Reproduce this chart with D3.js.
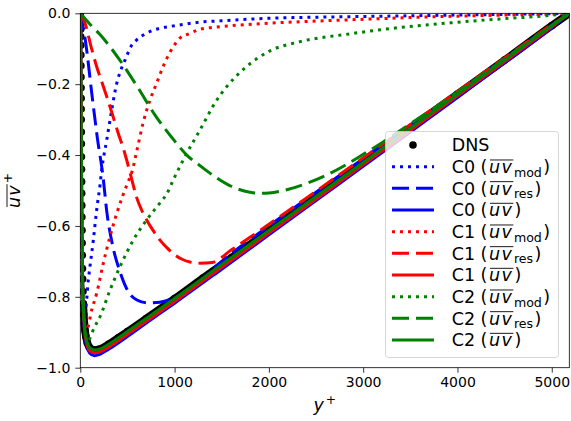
<!DOCTYPE html>
<html>
<head>
<meta charset="utf-8">
<script src="https://cdn.jsdelivr.net/npm/d3@7"></script>
<style>
html,body{margin:0;padding:0;background:#fff;}
svg{display:block;font-family:"DejaVu Sans",sans-serif;}
</style>
</head>
<body>
<svg id="chart" width="571" height="421"></svg>
<script>
// ---------------- data ----------------
const xTicks = [0, 1000, 2000, 3000, 4000, 5000];
const xTickLabels = ["0", "1000", "2000", "3000", "4000", "5000"];
const yTicks = [-1.0, -0.8, -0.6, -0.4, -0.2, 0.0];
const yTickLabels = ["\u22121.0", "\u22120.8", "\u22120.6", "\u22120.4", "\u22120.2", "0.0"];

// DNS
const dnsYplus = [0, 2.5, 3.5, 4.3, 5.0, 5.6, 6.2, 6.8, 7.4, 8.0, 8.6, 9.2, 9.8, 10.5, 11.2, 12.0, 12.8, 13.7, 14.6, 15.6, 16.7, 18.0, 19.4, 21, 23, 25, 28, 32, 37, 43, 50, 60, 75, 95, 120, 150, 200, 300, 400, 500, 700, 1000, 1300, 1600, 2000, 2500, 3000, 3500, 4000, 4500, 5000, 5186];
const dnsUV = [0, -0.010, -0.025, -0.045, -0.066, -0.090, -0.118, -0.148, -0.180, -0.210, -0.240, -0.270, -0.300, -0.335, -0.368, -0.405, -0.440, -0.475, -0.508, -0.542, -0.575, -0.612, -0.648, -0.683, -0.720, -0.750, -0.785, -0.820, -0.850, -0.875, -0.895, -0.913, -0.930, -0.942, -0.948, -0.950, -0.948, -0.934, -0.916, -0.898, -0.861, -0.805, -0.747, -0.690, -0.613, -0.517, -0.421, -0.324, -0.228, -0.132, -0.035, 0];

// total stresses (C0, C1, C2)
const totYplus = [0, 2.5, 5, 7.5, 10, 12.5, 15, 20, 25, 30, 40, 50, 70, 100, 150, 200, 300, 500, 700, 1000, 1500, 2000, 2500, 3000, 3500, 4000, 4500, 5000, 5186];
const c0Tot = [0, -0.014, -0.075, -0.203, -0.335, -0.440, -0.530, -0.680, -0.766, -0.826, -0.878, -0.910, -0.940, -0.959, -0.966, -0.963, -0.948, -0.912, -0.874, -0.818, -0.722, -0.625, -0.528, -0.432, -0.335, -0.238, -0.140, -0.041, 0];
const c1Tot = [0, -0.012, -0.070, -0.196, -0.327, -0.432, -0.522, -0.672, -0.757, -0.818, -0.870, -0.903, -0.933, -0.952, -0.958, -0.956, -0.942, -0.906, -0.869, -0.813, -0.717, -0.620, -0.524, -0.427, -0.330, -0.233, -0.136, -0.038, 0];
const c2Tot = [0, -0.010, -0.066, -0.190, -0.320, -0.425, -0.515, -0.665, -0.750, -0.810, -0.862, -0.895, -0.925, -0.944, -0.950, -0.948, -0.934, -0.898, -0.861, -0.805, -0.709, -0.613, -0.517, -0.421, -0.324, -0.228, -0.132, -0.035, 0];

// C0 modelled / resolved
const c0ModYplus = [0, 10, 20, 30, 50, 85, 138, 180, 209, 227, 280, 333, 386, 430, 474, 545, 598, 704, 845, 951, 1100, 1270, 1500, 2000, 2500, 3000, 3500, 4000, 4500, 5000, 5186];
const c0Mod = [0, -0.40, -0.70, -0.80, -0.842, -0.753, -0.640, -0.541, -0.485, -0.442, -0.358, -0.273, -0.198, -0.160, -0.132, -0.090, -0.075, -0.056, -0.042, -0.037, -0.031, -0.025, -0.021, -0.014, -0.011, -0.009, -0.007, -0.005, -0.003, -0.001, 0];
const c0ResYplus = [0, 53, 124, 180, 241, 283, 347, 422, 506, 601, 707, 845, 950, 1057, 1270, 1500, 2000, 2500, 3000, 3500, 4000, 4500, 5000, 5186];
const c0Res = [0, -0.075, -0.231, -0.350, -0.461, -0.564, -0.660, -0.730, -0.784, -0.809, -0.817, -0.815, -0.808, -0.795, -0.755, -0.700, -0.600, -0.505, -0.410, -0.316, -0.222, -0.128, -0.033, 0];

// C1 modelled / resolved
const c1ModYplus = [0, 10, 20, 30, 50, 68, 121, 174, 244, 315, 386, 450, 500, 548, 601, 665, 739, 813, 877, 951, 1057, 1150, 1270, 1400, 1600, 2000, 2500, 3000, 3500, 4000, 4500, 5000, 5186];
const c1Mod = [0, -0.40, -0.70, -0.82, -0.885, -0.893, -0.837, -0.790, -0.705, -0.630, -0.565, -0.515, -0.480, -0.447, -0.386, -0.310, -0.245, -0.195, -0.151, -0.110, -0.070, -0.058, -0.045, -0.040, -0.035, -0.028, -0.022, -0.017, -0.012, -0.008, -0.005, -0.002, 0];
const c1ResYplus = [0, 50, 120, 174, 230, 280, 340, 403, 450, 492, 545, 598, 650, 704, 770, 845, 920, 1004, 1080, 1164, 1270, 1400, 1600, 1800, 2000, 2500, 3000, 3500, 4000, 4500, 5000, 5186];
const c1Res = [0, -0.028, -0.100, -0.151, -0.195, -0.235, -0.285, -0.339, -0.376, -0.414, -0.468, -0.520, -0.555, -0.583, -0.612, -0.640, -0.662, -0.682, -0.694, -0.702, -0.705, -0.703, -0.668, -0.632, -0.595, -0.502, -0.408, -0.314, -0.220, -0.126, -0.032, 0];

// C2 modelled / resolved
const c2ModYplus = [0, 10, 20, 40, 85, 150, 209, 315, 421, 562, 704, 845, 916, 986, 1057, 1129, 1270, 1447, 1553, 1729, 2012, 2330, 2860, 3390, 3920, 4450, 4980, 5186];
const c2Mod = [0, -0.40, -0.70, -0.88, -0.921, -0.885, -0.856, -0.781, -0.715, -0.640, -0.583, -0.535, -0.510, -0.470, -0.432, -0.395, -0.329, -0.245, -0.207, -0.158, -0.106, -0.080, -0.058, -0.040, -0.027, -0.016, -0.006, 0];
const c2ResYplus = [0, 100, 209, 400, 600, 800, 1000, 1129, 1270, 1450, 1600, 1800, 1900, 2000, 2200, 2400, 2600, 2800, 3000, 3200, 3500, 4000, 4500, 5000, 5186];
const c2Res = [0, -0.030, -0.060, -0.125, -0.205, -0.290, -0.360, -0.400, -0.430, -0.465, -0.488, -0.505, -0.508, -0.507, -0.497, -0.480, -0.458, -0.430, -0.398, -0.365, -0.312, -0.222, -0.128, -0.034, 0];

const seriesLabels = ["C0", "C0", "C0", "C1", "C1", "C1", "C2", "C2", "C2"];
const seriesKinds = ["mod", "res", "tot", "mod", "res", "tot", "mod", "res", "tot"];

// ---------------- styling ----------------
const L = 80.3, R = 569.3, T = 13.3, B = 367.7;
const COL = {C0: "#0000ff", C1: "#ff0000", C2: "#008000"};
const DASH = {mod: "3,5", res: "17,7", tot: null};
const LW = 3;
const FONT = 17.5;

const svg = d3.select("#chart");
const x = d3.scaleLinear().domain([0, 5186]).range([L, R]);
const y = d3.scaleLinear().domain([-1, 0]).range([B, T]);

svg.append("defs").append("clipPath").attr("id", "clip")
  .append("rect").attr("x", L).attr("y", T).attr("width", R - L).attr("height", B - T);

const plot = svg.append("g").attr("clip-path", "url(#clip)");
const line = d3.line().x(d => x(d[0])).y(d => y(d[1])).curve(d3.curveMonotoneX);
const zip = (a, b) => a.map((v, i) => [v, b[i]]);

// DNS: markers + dense band
const dns = zip(dnsYplus, dnsUV);
plot.append("path").attr("d", line(dns.filter(d => d[0] >= 30)))
  .attr("fill", "none").attr("stroke", "#000").attr("stroke-width", 7.6)
  .attr("stroke-linejoin", "round").attr("stroke-linecap", "round");
plot.selectAll("circle.dns").data(dns).join("circle").attr("class", "dns")
  .attr("cx", d => x(d[0])).attr("cy", d => y(d[1])).attr("r", 3.8).attr("fill", "#000");

const seriesData = [
  zip(c0ModYplus, c0Mod), zip(c0ResYplus, c0Res), zip(totYplus, c0Tot),
  zip(c1ModYplus, c1Mod), zip(c1ResYplus, c1Res), zip(totYplus, c1Tot),
  zip(c2ModYplus, c2Mod), zip(c2ResYplus, c2Res), zip(totYplus, c2Tot)
];
seriesData.forEach((data, i) => {
  const p = plot.append("path").attr("d", line(data)).attr("fill", "none")
    .attr("stroke", COL[seriesLabels[i]]).attr("stroke-width", LW)
    .attr("stroke-linejoin", "round");
  if (DASH[seriesKinds[i]]) p.attr("stroke-dasharray", DASH[seriesKinds[i]]);
});

// ---------------- axes ----------------
const xAxis = svg.append("g").attr("transform", `translate(0,${B})`)
  .call(d3.axisBottom(x).tickValues(xTicks).tickFormat((d, i) => xTickLabels[i]).tickSize(5).tickPadding(4.5));
const yAxis = svg.append("g").attr("transform", `translate(${L},0)`)
  .call(d3.axisLeft(y).tickValues(yTicks).tickFormat((d, i) => yTickLabels[i]).tickSize(5).tickPadding(5));
[xAxis, yAxis].forEach(a => {
  a.select(".domain").remove();
  a.selectAll(".tick line").attr("stroke", "#000").attr("stroke-width", 0.8);
  a.selectAll(".tick text").attr("font-size", 14).attr("fill", "#000").attr("font-family", "DejaVu Sans");
});
svg.append("rect").attr("x", L).attr("y", T).attr("width", R - L).attr("height", B - T)
  .attr("fill", "none").attr("stroke", "#000").attr("stroke-width", 0.8);

// helper: overline over a tspan
function overline(parent, tspan, offUp) {
  const n = tspan.node();
  const s = n.getStartPositionOfChar(0);
  const e = n.getEndPositionOfChar(n.getNumberOfChars() - 1);
  parent.append("line").attr("x1", s.x + 1).attr("x2", e.x)
    .attr("y1", s.y - offUp).attr("y2", e.y - offUp)
    .attr("stroke", "#000").attr("stroke-width", 0.9);
}

// x label
const xl = svg.append("text").attr("x", 324.8).attr("y", 411).attr("text-anchor", "middle")
  .attr("font-size", FONT).attr("fill", "#000");
xl.append("tspan").attr("font-style", "italic").text("y");
xl.append("tspan").attr("font-size", FONT * 0.7).attr("dy", -7).attr("dx", 2).text("+");

// y label
const yg = svg.append("g").attr("transform", "translate(20,190.5) rotate(-90)");
const ylt = yg.append("text").attr("x", 0).attr("y", 0).attr("text-anchor", "middle")
  .attr("font-size", FONT).attr("fill", "#000");
const yuv = ylt.append("tspan").attr("font-style", "italic").attr("letter-spacing", 1.2).text("uv");
ylt.append("tspan").attr("font-size", FONT * 0.7).attr("dy", -8).attr("dx", 1).text("+");
overline(yg, yuv, 13);

// ---------------- legend ----------------
const lg = svg.append("g");
lg.append("rect").attr("x", 385.5).attr("y", 131.5).attr("width", 173).attr("height", 226)
  .attr("rx", 3).attr("fill", "#fff").attr("fill-opacity", 0.8)
  .attr("stroke", "#cccccc").attr("stroke-width", 0.8);
const rowY = i => 145 + i * 21.67;
const hx1 = 392, hx2 = 434, tx = 451.7;
// DNS row
lg.append("circle").attr("cx", (hx1 + hx2) / 2).attr("cy", rowY(0)).attr("r", 3.8).attr("fill", "#000");
lg.append("text").attr("x", tx).attr("y", rowY(0) + 6.4).attr("font-size", FONT).attr("fill", "#000").text("DNS");
seriesLabels.forEach((lab, i) => {
  const cy = rowY(i + 1);
  const kind = seriesKinds[i];
  const l = lg.append("line").attr("x1", hx1).attr("x2", hx2).attr("y1", cy).attr("y2", cy)
    .attr("stroke", COL[lab]).attr("stroke-width", LW);
  if (DASH[kind]) l.attr("stroke-dasharray", DASH[kind]);
  const t = lg.append("text").attr("x", tx).attr("y", cy + 6.3).attr("font-size", FONT).attr("fill", "#000");
  t.append("tspan").text(lab + " (");
  const uv = t.append("tspan").attr("font-style", "italic").attr("letter-spacing", 1.5).attr("dx", 1.5).text("uv");
  if (kind === "tot") {
    t.append("tspan").attr("dx", 1).text(")");
  } else {
    t.append("tspan").attr("font-size", FONT * 0.72).attr("dy", 3.6).attr("dx", 0.5).text(kind);
    t.append("tspan").attr("font-size", FONT).attr("dy", -3.6).attr("dx", 1.5).text(")");
  }
  overline(lg, uv, 13);
});
</script>
</body>
</html>
